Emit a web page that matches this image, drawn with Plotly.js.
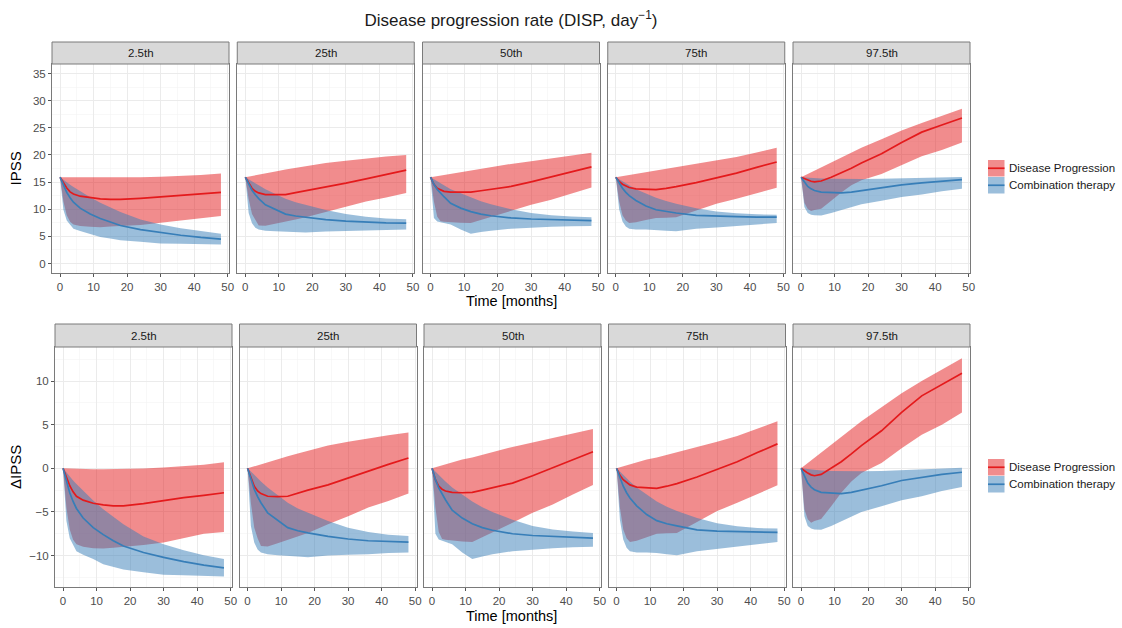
<!DOCTYPE html>
<html><head><meta charset="utf-8">
<script src="https://cdn.plot.ly/plotly-3.0.1.min.js"></script>
<style>html,body{margin:0;padding:0;background:#fff}#chart{width:1122px;height:628px}</style>
</head><body><div id="chart"></div>
<script>
// ---------------- DATA ----------------
const months = [0, 1, 2, 3, 4, 6, 9, 12, 15, 18, 24, 30, 36, 42, 48];
const percentileLabels = ['2.5th', '25th', '50th', '75th', '97.5th'];
const seriesNames = ['Disease Progression', 'Combination therapy'];
const rowTitles = ['IPSS', 'ΔIPSS'];
const plotTitle = 'Disease progression rate (DISP, day<sup>−1</sup>)';
const xAxisTitle = 'Time [months]';

// IPSS (top row) - Disease Progression (DP) and Combination therapy (CT): median, lower, upper
const ipss_p025_DP_mid = [15.9,14.8,13.9,13.2,12.8,12.4,12.1,11.9,11.8,11.8,12.0,12.3,12.6,12.9,13.1];
const ipss_p025_DP_lo  = [15.9,11.4,8.9,7.7,7.2,6.9,6.75,6.7,6.8,6.9,7.1,7.5,7.9,8.4,8.75];
const ipss_p025_DP_hi  = [15.9,15.9,15.9,15.9,15.9,15.85,15.85,15.85,15.85,15.85,15.9,16.0,16.1,16.3,16.6];
const ipss_p025_CT_mid = [15.9,14.4,13.1,12.1,11.3,10.2,9.1,8.3,7.6,7.0,6.25,5.7,5.2,4.8,4.5];
const ipss_p025_CT_lo  = [15.9,9.9,7.9,7.1,6.4,6.0,5.5,4.9,4.6,4.3,4.0,3.7,3.65,3.6,3.5];
const ipss_p025_CT_hi  = [15.9,15.4,14.9,14.5,14.1,13.3,12.2,11.2,10.3,9.5,8.1,7.2,6.5,5.95,5.5];

const ipss_p25_DP_mid = [15.9,14.8,13.85,13.3,13.0,12.7,12.65,12.7,13.05,13.4,14.0,14.8,15.6,16.4,17.2];
const ipss_p25_DP_lo  = [15.9,11.9,9.1,7.9,7.0,6.95,7.3,7.7,8.1,8.5,9.5,10.4,11.4,12.15,13.0];
const ipss_p25_DP_hi  = [15.9,16.0,16.1,16.3,16.4,16.6,16.95,17.3,17.6,17.9,18.5,18.95,19.35,19.7,20.0];
const ipss_p25_CT_mid = [15.9,14.6,13.5,12.65,11.95,10.8,9.9,9.1,8.75,8.5,8.1,7.8,7.6,7.5,7.45];
const ipss_p25_CT_lo  = [15.9,9.3,7.4,6.6,6.25,6.05,5.95,5.9,5.8,5.7,5.9,6.0,6.05,6.2,6.25];
const ipss_p25_CT_hi  = [15.9,15.5,15.1,14.75,14.4,13.7,12.8,11.95,11.3,10.8,9.85,9.1,8.6,8.3,8.15];

const ipss_p50_DP_mid = [15.9,14.6,13.85,13.5,13.3,13.15,13.1,13.15,13.4,13.65,14.2,15.05,15.95,16.9,17.8];
const ipss_p50_DP_lo  = [15.9,11.4,8.6,7.8,7.7,7.6,7.5,7.45,8.0,8.5,9.65,10.8,11.75,12.9,14.0];
const ipss_p50_DP_hi  = [15.9,16.0,16.15,16.25,16.4,16.6,16.9,17.15,17.45,17.75,18.35,18.85,19.35,19.9,20.4];
const ipss_p50_CT_mid = [15.9,14.6,13.65,12.9,12.3,11.1,10.2,9.55,9.1,8.8,8.4,8.2,8.1,8.0,7.9];
const ipss_p50_CT_lo  = [15.9,8.4,7.75,7.6,7.5,7.2,6.25,5.5,5.8,6.05,6.4,6.6,6.75,6.85,6.9];
const ipss_p50_CT_hi  = [15.9,15.5,15.1,14.75,14.4,13.7,12.9,12.1,11.45,10.9,10.0,9.3,8.9,8.65,8.5];

const ipss_p75_DP_mid = [15.9,15.1,14.6,14.25,14.0,13.75,13.65,13.6,13.85,14.15,14.9,15.8,16.65,17.7,18.7];
const ipss_p75_DP_lo  = [15.9,11.4,8.9,7.9,7.45,7.6,8.0,8.4,8.45,8.5,9.75,11.0,11.95,12.95,13.95];
const ipss_p75_DP_hi  = [15.9,16.0,16.15,16.25,16.4,16.6,16.9,17.15,17.45,17.75,18.3,18.95,19.6,20.45,21.3];
const ipss_p75_CT_mid = [15.9,14.8,13.85,13.1,12.5,11.6,10.6,9.9,9.55,9.3,8.85,8.7,8.65,8.55,8.55];
const ipss_p75_CT_lo  = [15.9,10.0,7.75,6.8,6.4,6.25,6.25,6.2,6.05,5.95,6.4,6.65,6.9,7.15,7.45];
const ipss_p75_CT_hi  = [15.9,15.5,15.1,14.75,14.4,13.7,12.9,12.1,11.5,11.0,10.2,9.6,9.25,9.05,9.0];

const ipss_p975_DP_mid = [15.9,15.6,15.35,15.15,15.05,15.2,15.9,16.65,17.55,18.5,20.2,22.3,24.2,25.5,26.8];
const ipss_p975_DP_lo  = [15.9,11.2,10.05,9.65,9.85,10.1,11.55,13.1,14.4,15.35,16.5,18.2,19.75,20.9,22.3];
const ipss_p975_DP_hi  = [15.9,16.2,16.5,16.8,17.1,17.7,18.6,19.5,20.4,21.3,22.9,24.5,25.9,27.2,28.5];
const ipss_p975_CT_mid = [15.9,15.0,14.2,13.75,13.45,13.15,13.05,13.0,13.15,13.4,13.9,14.5,14.85,15.2,15.45];
const ipss_p975_CT_lo  = [15.9,10.4,9.3,9.0,8.9,8.85,9.3,9.85,10.4,10.9,11.55,12.25,12.7,13.3,13.75];
const ipss_p975_CT_hi  = [15.9,15.85,15.8,15.75,15.7,15.65,15.6,15.55,15.55,15.55,15.6,15.7,15.8,15.9,15.95];

// ΔIPSS (bottom row)
const dipss_p025_DP_mid = [0,-1.1,-2.0,-2.7,-3.2,-3.65,-4.0,-4.2,-4.3,-4.3,-4.05,-3.7,-3.35,-3.1,-2.8];
const dipss_p025_DP_lo  = [0,-4.5,-7.0,-8.2,-8.7,-9.0,-9.15,-9.2,-9.1,-9.0,-8.8,-8.5,-8.0,-7.5,-7.3];
const dipss_p025_DP_hi  = [0,-0.02,-0.04,-0.05,-0.06,-0.08,-0.1,-0.1,-0.1,-0.08,-0.02,0.08,0.22,0.42,0.68];
const dipss_p025_CT_mid = [0,-1.5,-2.8,-3.8,-4.6,-5.7,-6.8,-7.6,-8.3,-8.9,-9.65,-10.2,-10.7,-11.1,-11.4];
const dipss_p025_CT_lo  = [0,-6.0,-8.0,-8.8,-9.5,-9.9,-10.4,-11.0,-11.3,-11.6,-11.9,-12.2,-12.25,-12.3,-12.4];
const dipss_p025_CT_hi  = [0,-0.5,-1.0,-1.4,-1.8,-2.6,-3.7,-4.7,-5.6,-6.4,-7.8,-8.7,-9.4,-9.95,-10.4];

const dipss_p25_DP_mid = [0,-1.1,-2.05,-2.6,-2.9,-3.2,-3.25,-3.2,-2.85,-2.5,-1.9,-1.1,-0.27,0.45,1.18];
const dipss_p25_DP_lo  = [0,-4.0,-6.8,-8.0,-8.9,-8.95,-8.6,-8.2,-7.8,-7.4,-6.4,-5.5,-4.5,-3.75,-2.9];
const dipss_p25_DP_hi  = [0,0.12,0.24,0.36,0.48,0.72,1.05,1.37,1.7,2.0,2.6,3.05,3.45,3.8,4.1];
const dipss_p25_CT_mid = [0,-1.3,-2.4,-3.25,-3.95,-5.1,-6.0,-6.8,-7.15,-7.4,-7.8,-8.1,-8.3,-8.4,-8.45];
const dipss_p25_CT_lo  = [0,-6.6,-8.5,-9.3,-9.65,-9.85,-9.95,-10.0,-10.1,-10.2,-10.0,-9.9,-9.85,-9.7,-9.65];
const dipss_p25_CT_hi  = [0,-0.4,-0.8,-1.15,-1.5,-2.2,-3.1,-3.95,-4.6,-5.1,-6.05,-6.8,-7.3,-7.6,-7.75];

const dipss_p50_DP_mid = [0,-1.3,-2.05,-2.4,-2.6,-2.75,-2.8,-2.75,-2.5,-2.25,-1.7,-0.85,0.04,1.0,1.9];
const dipss_p50_DP_lo  = [0,-4.5,-7.3,-8.1,-8.2,-8.3,-8.4,-8.45,-7.9,-7.4,-6.25,-5.1,-4.15,-3.0,-1.9];
const dipss_p50_DP_hi  = [0,0.12,0.24,0.36,0.48,0.72,1.0,1.25,1.55,1.85,2.45,2.95,3.45,4.0,4.5];
const dipss_p50_CT_mid = [0,-1.3,-2.25,-3.0,-3.6,-4.8,-5.7,-6.35,-6.8,-7.1,-7.5,-7.7,-7.8,-7.9,-8.0];
const dipss_p50_CT_lo  = [0,-7.5,-8.15,-8.3,-8.4,-8.7,-9.65,-10.4,-10.1,-9.85,-9.5,-9.3,-9.15,-9.05,-9.0];
const dipss_p50_CT_hi  = [0,-0.4,-0.8,-1.15,-1.5,-2.2,-3.0,-3.8,-4.45,-5.0,-5.9,-6.6,-7.0,-7.25,-7.4];

const dipss_p75_DP_mid = [0,-0.8,-1.3,-1.65,-1.9,-2.15,-2.25,-2.3,-2.05,-1.75,-1.0,-0.1,0.75,1.8,2.8];
const dipss_p75_DP_lo  = [0,-4.5,-7.0,-8.0,-8.45,-8.3,-7.9,-7.5,-7.45,-7.4,-6.15,-4.9,-3.95,-2.95,-1.95];
const dipss_p75_DP_hi  = [0,0.12,0.24,0.36,0.48,0.72,1.0,1.25,1.55,1.85,2.4,3.05,3.7,4.55,5.4];
const dipss_p75_CT_mid = [0,-1.1,-2.05,-2.8,-3.4,-4.3,-5.3,-6.0,-6.35,-6.6,-7.05,-7.2,-7.25,-7.35,-7.35];
const dipss_p75_CT_lo  = [0,-5.9,-8.15,-9.1,-9.5,-9.65,-9.65,-9.7,-9.85,-9.95,-9.5,-9.25,-9.0,-8.75,-8.45];
const dipss_p75_CT_hi  = [0,-0.4,-0.8,-1.15,-1.5,-2.2,-3.0,-3.8,-4.4,-4.9,-5.7,-6.3,-6.65,-6.85,-6.9];

const dipss_p975_DP_mid = [0,-0.3,-0.55,-0.75,-0.85,-0.7,0.0,0.75,1.65,2.6,4.3,6.4,8.3,9.6,10.9];
const dipss_p975_DP_lo  = [0,-4.7,-5.85,-6.25,-6.05,-5.8,-4.35,-2.8,-1.5,-0.55,0.6,2.3,3.85,5.0,6.4];
const dipss_p975_DP_hi  = [0,0.3,0.6,0.9,1.2,1.8,2.7,3.6,4.5,5.4,7.0,8.6,10.0,11.3,12.6];
const dipss_p975_CT_mid = [0,-0.9,-1.7,-2.15,-2.45,-2.75,-2.85,-2.9,-2.75,-2.5,-2.0,-1.4,-1.05,-0.7,-0.45];
const dipss_p975_CT_lo  = [0,-5.5,-6.6,-6.9,-7.0,-7.05,-6.6,-6.05,-5.5,-5.0,-4.35,-3.65,-3.2,-2.6,-2.15];
const dipss_p975_CT_hi  = [0,-0.05,-0.1,-0.15,-0.2,-0.25,-0.3,-0.33,-0.35,-0.35,-0.3,-0.2,-0.1,0,0.05];

// ---------------- ASSEMBLY ----------------
const panelData = [
  [ // IPSS row
    {DP:[ipss_p025_DP_lo,ipss_p025_DP_mid,ipss_p025_DP_hi], CT:[ipss_p025_CT_lo,ipss_p025_CT_mid,ipss_p025_CT_hi]},
    {DP:[ipss_p25_DP_lo,ipss_p25_DP_mid,ipss_p25_DP_hi],    CT:[ipss_p25_CT_lo,ipss_p25_CT_mid,ipss_p25_CT_hi]},
    {DP:[ipss_p50_DP_lo,ipss_p50_DP_mid,ipss_p50_DP_hi],    CT:[ipss_p50_CT_lo,ipss_p50_CT_mid,ipss_p50_CT_hi]},
    {DP:[ipss_p75_DP_lo,ipss_p75_DP_mid,ipss_p75_DP_hi],    CT:[ipss_p75_CT_lo,ipss_p75_CT_mid,ipss_p75_CT_hi]},
    {DP:[ipss_p975_DP_lo,ipss_p975_DP_mid,ipss_p975_DP_hi], CT:[ipss_p975_CT_lo,ipss_p975_CT_mid,ipss_p975_CT_hi]}
  ],
  [ // ΔIPSS row
    {DP:[dipss_p025_DP_lo,dipss_p025_DP_mid,dipss_p025_DP_hi], CT:[dipss_p025_CT_lo,dipss_p025_CT_mid,dipss_p025_CT_hi]},
    {DP:[dipss_p25_DP_lo,dipss_p25_DP_mid,dipss_p25_DP_hi],    CT:[dipss_p25_CT_lo,dipss_p25_CT_mid,dipss_p25_CT_hi]},
    {DP:[dipss_p50_DP_lo,dipss_p50_DP_mid,dipss_p50_DP_hi],    CT:[dipss_p50_CT_lo,dipss_p50_CT_mid,dipss_p50_CT_hi]},
    {DP:[dipss_p75_DP_lo,dipss_p75_DP_mid,dipss_p75_DP_hi],    CT:[dipss_p75_CT_lo,dipss_p75_CT_mid,dipss_p75_CT_hi]},
    {DP:[dipss_p975_DP_lo,dipss_p975_DP_mid,dipss_p975_DP_hi], CT:[dipss_p975_CT_lo,dipss_p975_CT_mid,dipss_p975_CT_hi]}
  ]
];

const W = 1122, H = 628;
const px = v => v / W;
const py = v => 1 - v / H;
const FONT = 'Liberation Sans, Arial, Helvetica, sans-serif';
const RED = '#E41A1C', BLUE = '#377EB8';
const RED_FILL = 'rgba(228,26,28,0.5)', BLUE_FILL = 'rgba(55,126,184,0.5)';
const BORDER = '#7a7a7a';

const rows = [
  {plotTop: 64, plotBot: 273, stripTop: 42, x0: 52, step: 185.25, w: 177, yrange: [-1.75, 36.75],
   legendY: 160, titleY: 301},
  {plotTop: 347, plotBot: 587, stripTop: 324, x0: 55, step: 184.5, w: 177, yrange: [-13.6, 13.9],
   legendY: 459, titleY: 616}
];

const traces = [];
const layout = {
  width: W, height: H,
  margin: {l: 0, r: 0, t: 0, b: 0},
  paper_bgcolor: '#fff', plot_bgcolor: '#fff',
  showlegend: false,
  font: {family: FONT, color: '#1a1a1a'},
  title: {text: plotTitle, x: 511 / W, xanchor: 'center', y: 1 - 20 / H, yanchor: 'middle',
          font: {size: 17, family: FONT, color: '#1a1a1a'}},
  shapes: [], annotations: []
};

rows.forEach((row, r) => {
  for (let c = 0; c < 5; c++) {
    const idx = r * 5 + c + 1;
    const xn = 'x' + idx, yn = 'y' + idx;
    const left = row.x0 + c * row.step, right = left + row.w;
    const d = panelData[r][c];
    // ribbons
    [[d.DP, RED_FILL], [d.CT, BLUE_FILL]].forEach(([s, fc]) => {
      traces.push({x: months, y: s[0], xaxis: xn, yaxis: yn, mode: 'lines', line: {width: 0, color: fc},
                   hoverinfo: 'skip', showlegend: false});
      traces.push({x: months, y: s[2], xaxis: xn, yaxis: yn, mode: 'lines', line: {width: 0, color: fc},
                   fill: 'tonexty', fillcolor: fc, hoverinfo: 'skip', showlegend: false});
    });
    // median lines
    traces.push({x: months, y: d.DP[1], xaxis: xn, yaxis: yn, mode: 'lines', name: seriesNames[0],
                 line: {color: RED, width: 1.7}, showlegend: false});
    traces.push({x: months, y: d.CT[1], xaxis: xn, yaxis: yn, mode: 'lines', name: seriesNames[1],
                 line: {color: BLUE, width: 1.7}, showlegend: false});

    const common = {
      showline: true, mirror: true, linecolor: BORDER, linewidth: 1,
      showgrid: true, gridcolor: '#EBEBEB', gridwidth: 1, zeroline: false,
      ticks: 'outside', ticklen: 3, tickcolor: '#555', tickwidth: 1,
      tickfont: {size: 11.5, color: '#4D4D4D', family: FONT}, fixedrange: true
    };
    layout['xaxis' + idx] = Object.assign({}, common, {
      domain: [px(left), px(right)], anchor: yn, range: [-2.4, 50.4], dtick: 10, tick0: 0,
      minor: {dtick: 5, tick0: 0, showgrid: true, gridcolor: '#F4F4F4', gridwidth: 0.6}
    });
    layout['yaxis' + idx] = Object.assign({}, common, {
      domain: [py(row.plotBot), py(row.plotTop)], anchor: xn, range: row.yrange, dtick: 5, tick0: 0,
      minor: {dtick: 2.5, tick0: 0, showgrid: true, gridcolor: '#F4F4F4', gridwidth: 0.6},
      showticklabels: c === 0, ticks: c === 0 ? 'outside' : ''
    });
    // strip
    layout.shapes.push({type: 'rect', xref: 'paper', yref: 'paper',
      x0: px(left), x1: px(right), y0: py(row.plotTop), y1: py(row.stripTop),
      fillcolor: '#D9D9D9', line: {color: BORDER, width: 1}});
    layout.annotations.push({xref: 'paper', yref: 'paper', x: px((left + right) / 2),
      y: py((row.plotTop + row.stripTop) / 2), text: percentileLabels[c], showarrow: false,
      xanchor: 'center', yanchor: 'middle', font: {size: 11.5, color: '#1a1a1a', family: FONT}});
  }
  // y axis title
  layout.annotations.push({xref: 'paper', yref: 'paper', x: px(15), y: py((row.plotTop + row.plotBot) / 2),
    text: rowTitles[r], textangle: -90, showarrow: false, xanchor: 'center', yanchor: 'middle',
    font: {size: 15, color: '#000', family: FONT}});
  // x axis title
  layout.annotations.push({xref: 'paper', yref: 'paper', x: px(511), y: py(row.titleY),
    text: xAxisTitle, showarrow: false, xanchor: 'center', yanchor: 'middle',
    font: {size: 14.5, color: '#000', family: FONT}});
  // legend
  [[RED_FILL, RED], [BLUE_FILL, BLUE]].forEach(([fc, lc], k) => {
    const y0 = row.legendY + k * 17;
    layout.shapes.push({type: 'rect', xref: 'paper', yref: 'paper', x0: px(988), x1: px(1004.5),
      y0: py(y0 + 16.5), y1: py(y0), fillcolor: fc, line: {width: 0}});
    layout.shapes.push({type: 'line', xref: 'paper', yref: 'paper', x0: px(988), x1: px(1004.5),
      y0: py(y0 + 8.25), y1: py(y0 + 8.25), line: {color: lc, width: 1.7}});
    layout.annotations.push({xref: 'paper', yref: 'paper', x: px(1007), y: py(y0 + 8.25),
      text: seriesNames[k], showarrow: false, xanchor: 'left', yanchor: 'middle',
      font: {size: 11.5, color: '#1a1a1a', family: FONT}});
  });
});

Plotly.newPlot('chart', traces, layout, {displayModeBar: false, staticPlot: true});
</script>
</body></html>
